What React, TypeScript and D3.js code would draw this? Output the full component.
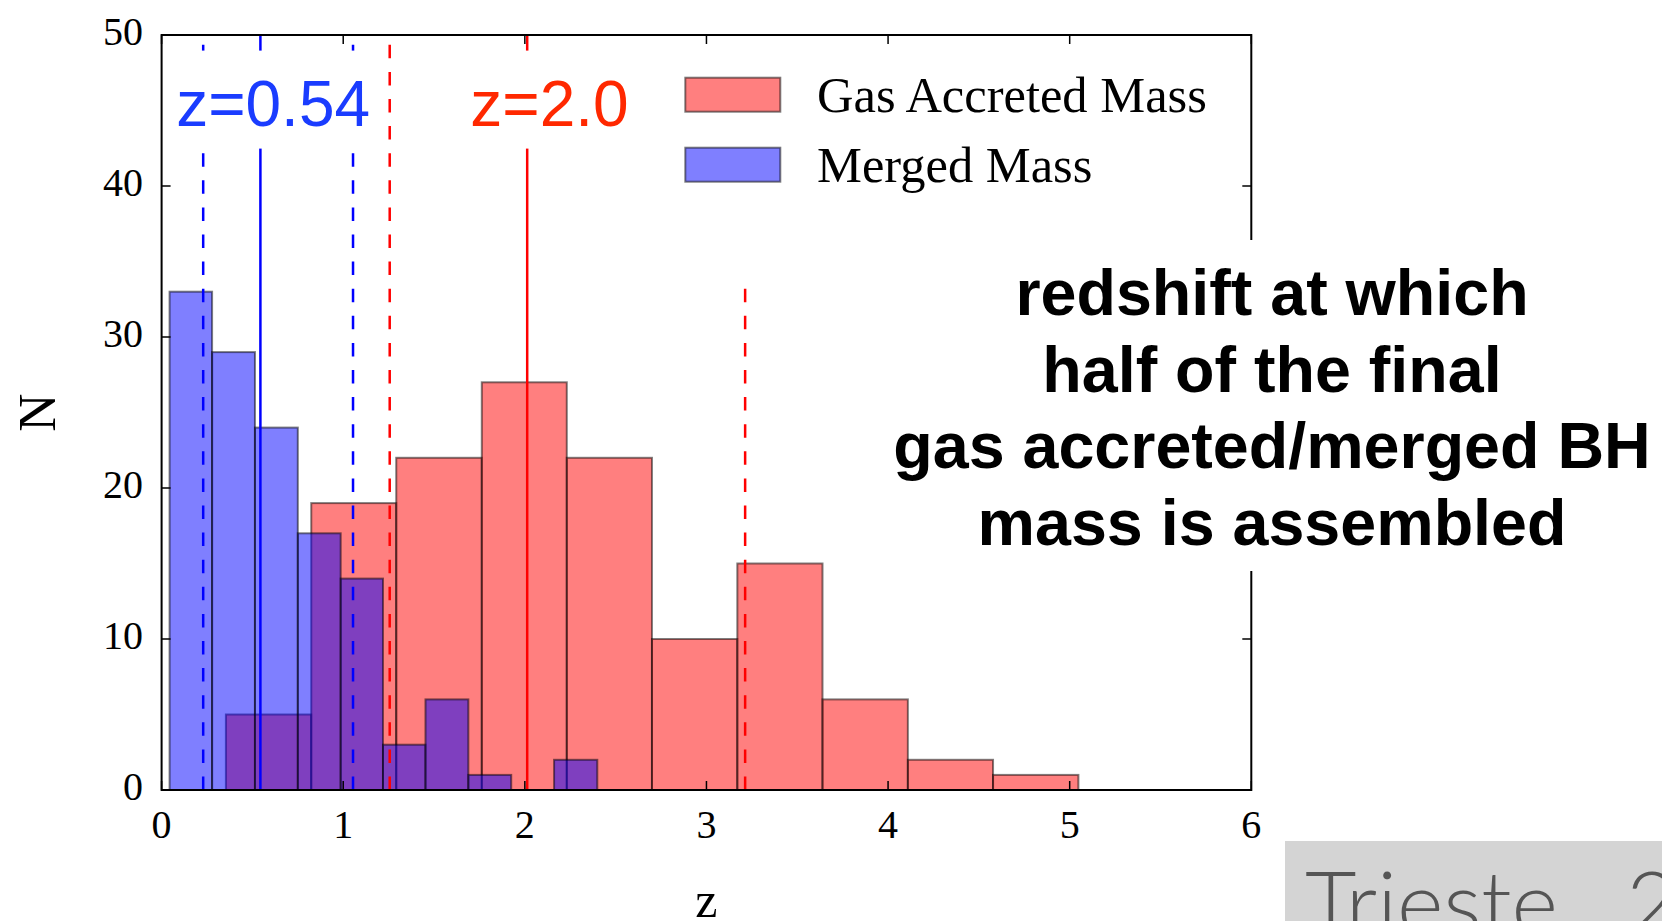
import React, { useLayoutEffect, useRef, useState } from 'react';
import * as d3 from 'd3';

// ---------- data ----------
const xTicks = [0, 1, 2, 3, 4, 5, 6];
const yTicks = [0, 10, 20, 30, 40, 50];

const gasEdges = [0.354, 0.824, 1.292, 1.763, 2.231, 2.7, 3.17, 3.639, 4.109, 4.578, 5.048];
const gasCounts = [5, 19, 22, 27, 22, 10, 15, 6, 2, 1];

const mergedEdges = [0.044, 0.278, 0.514, 0.75, 0.986, 1.219, 1.453, 1.689, 1.925, 2.161, 2.399];
const mergedCounts = [33, 29, 24, 17, 14, 3, 6, 1, 0, 2];

const lineZ = [0.229, 0.544, 1.054, 1.256, 2.013, 3.213];
const lineColor = ['#0000ff', '#0000ff', '#0000ff', '#ff0000', '#ff0000', '#ff0000'];
const lineDashed = [true, false, true, true, false, true];
const lineTop = [50, 50, 50, 50, 50, 33.2];

const labelTexts = ['z=0.54', 'z=2.0'];
const labelZ = [0.08, 1.7];
const labelN = [44, 44];
const labelColors = ['#1a3cff', '#ff2800'];

const legendLabels = ['Gas Accreted Mass', 'Merged Mass'];
const annotationLines = ['redshift at which', 'half of the final', 'gas accreted/merged BH', 'mass is assembled'];
const footerWords = ['Trieste', '2'];

// ---------- layout ----------
const W = 1662;
const H = 921;
const L = 161.6, R = 1251.3, T = 35, B = 790;
const serif = '"Liberation Serif", "Times New Roman", serif';
const sans = '"Liberation Sans", Arial, sans-serif';

const x = d3.scaleLinear().domain([0, 6]).range([L, R]);
const y = d3.scaleLinear().domain([0, 50]).range([B, T]);

function BoxedLabel({ text, px, py, color }: { text: string; px: number; py: number; color: string }) {
  const ref = useRef<SVGTextElement>(null);
  const [bb, setBb] = useState<{ x: number; w: number } | null>(null);
  useLayoutEffect(() => {
    if (ref.current) {
      const b = ref.current.getBBox();
      setBb({ x: b.x, w: b.width });
    }
  }, [text]);
  return (
    <g>
      {bb && <rect x={bb.x - 11} y={py - 75} width={bb.w + 22} height={98} fill="#fff" />}
      <text ref={ref} x={px} y={py} fill={color} fontFamily={sans} fontSize={64}>
        {text}
      </text>
    </g>
  );
}

function Bars({ edges, counts, color }: { edges: number[]; counts: number[]; color: string }) {
  return (
    <g>
      {counts.map((c, i) =>
        c > 0 ? (
          <rect
            key={i}
            x={x(edges[i])}
            y={y(c)}
            width={x(edges[i + 1]) - x(edges[i])}
            height={y(0) - y(c)}
            fill={color}
            fillOpacity={0.5}
            stroke="#000"
            strokeOpacity={0.5}
            strokeWidth={2}
          />
        ) : null
      )}
    </g>
  );
}

export default function App() {
  const tickLen = 9;
  return (
    <svg
      width={W}
      height={H}
      viewBox={`0 0 ${W} ${H}`}
      style={{ position: 'absolute', left: 0, top: 0, background: '#fff' }}
    >
      <rect x={0} y={0} width={W} height={H} fill="#fff" />

      {/* histograms */}
      <Bars edges={gasEdges} counts={gasCounts} color="#ff0000" />
      <Bars edges={mergedEdges} counts={mergedCounts} color="#0000ff" />

      {/* vertical lines */}
      {lineZ.map((z, i) => (
        <line
          key={i}
          x1={x(z)}
          x2={x(z)}
          y1={y(0)}
          y2={y(lineTop[i])}
          stroke={lineColor[i]}
          strokeWidth={2.5}
          strokeDasharray={lineDashed[i] ? '13.5 13.6' : undefined}
        />
      ))}

      {/* labels with white boxes */}
      {labelTexts.map((t, i) => (
        <BoxedLabel key={t} text={t} px={x(labelZ[i])} py={y(labelN[i])} color={labelColors[i]} />
      ))}

      {/* legend */}
      {legendLabels.map((lab, i) => (
        <g key={lab}>
          <rect
            x={685.3}
            y={77.7 + i * 70}
            width={95}
            height={34}
            fill={i === 0 ? '#ff0000' : '#0000ff'}
            fillOpacity={0.5}
            stroke="#000"
            strokeOpacity={0.5}
            strokeWidth={2}
          />
          <text x={817} y={111.5 + i * 70} fontFamily={serif} fontSize={50.5} fill="#000">
            {lab}
          </text>
        </g>
      ))}

      {/* frame */}
      <rect x={L} y={T} width={R - L} height={B - T} fill="none" stroke="#000" strokeWidth={2} />

      {/* ticks */}
      {xTicks.map((t) => (
        <g key={'x' + t}>
          <line x1={x(t)} x2={x(t)} y1={B} y2={B - tickLen} stroke="#000" strokeWidth={1.5} />
          <line x1={x(t)} x2={x(t)} y1={T} y2={T + tickLen} stroke="#000" strokeWidth={1.5} />
          <text x={x(t)} y={838} textAnchor="middle" fontFamily={serif} fontSize={40} fill="#000">
            {t}
          </text>
        </g>
      ))}
      {yTicks.map((t) => (
        <g key={'y' + t}>
          <line x1={L} x2={L + tickLen} y1={y(t)} y2={y(t)} stroke="#000" strokeWidth={1.5} />
          <line x1={R} x2={R - tickLen} y1={y(t)} y2={y(t)} stroke="#000" strokeWidth={1.5} />
          <text x={143} y={y(t) + 10} textAnchor="end" fontFamily={serif} fontSize={40} fill="#000">
            {t}
          </text>
        </g>
      ))}

      {/* axis labels */}
      <text x={(L + R) / 2} y={917} textAnchor="middle" fontFamily={serif} fontSize={50} fill="#000">
        z
      </text>
      <text
        transform={`translate(55, ${(T + B) / 2}) rotate(-90)`}
        textAnchor="middle"
        fontFamily={serif}
        fontSize={53}
        fill="#000"
      >
        N
      </text>

      {/* annotation overlay */}
      <rect x={880} y={240} width={W - 880} height={331} fill="#fff" />
      {annotationLines.map((ln, i) => (
        <text
          key={ln}
          x={1272}
          y={315 + i * 76.7}
          textAnchor="middle"
          fontFamily={sans}
          fontWeight="bold"
          fontSize={64.6}
          fill="#000"
        >
          {ln}
        </text>
      ))}

      {/* footer box */}
      <rect x={1285} y={841} width={W - 1285} height={H - 841} fill="#d4d4d4" />
      <text
        x={1305}
        y={935}
        fontFamily='Lato, "Open Sans", sans-serif'
        fontWeight={300}
        fontSize={89}
        fill="#555"
      >
        {footerWords[0]}
        <tspan x={1626}>{footerWords[1]}</tspan>
      </text>
    </svg>
  );
}
